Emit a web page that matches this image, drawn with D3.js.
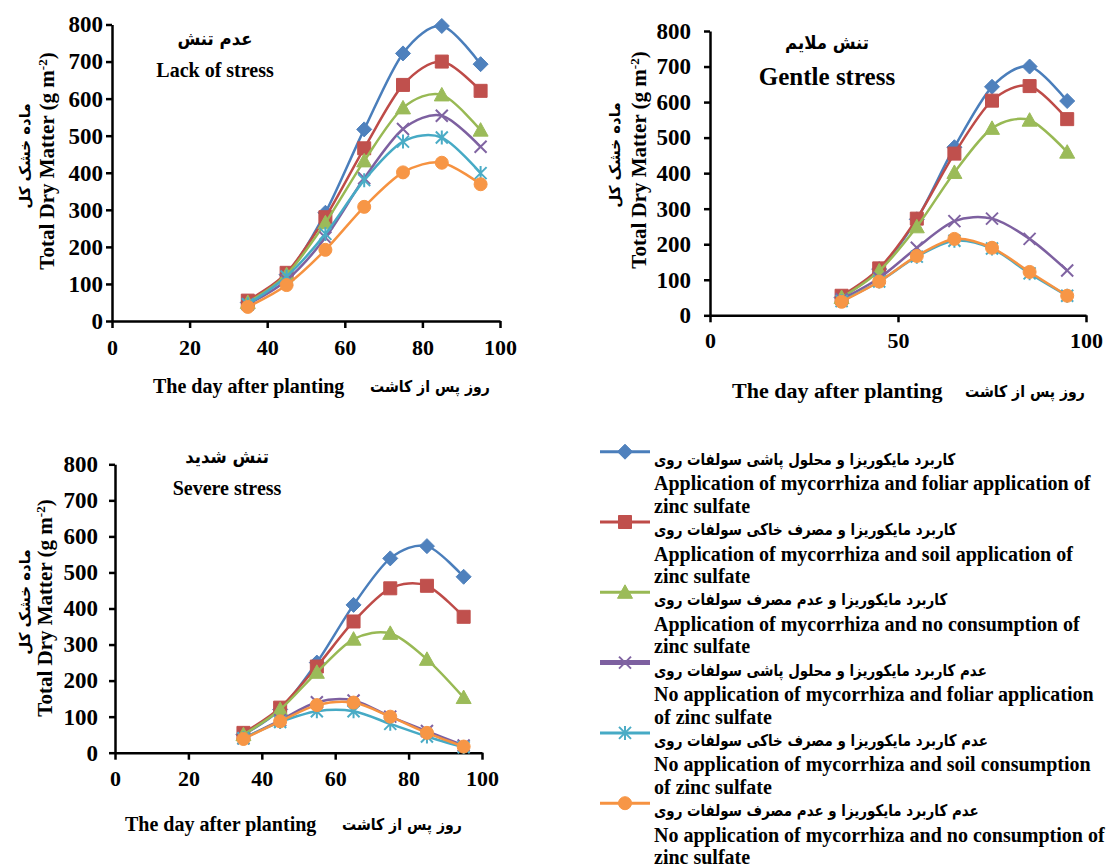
<!DOCTYPE html>
<html>
<head>
<meta charset="utf-8">
<script src="https://cdn.jsdelivr.net/npm/d3@7"></script>
<style>
  body { margin: 0; background: #fff; }
  .en { font-family: "Liberation Serif", "Times New Roman", serif; font-weight: bold; fill: #000; }
  .fa { font-family: "DejaVu Sans", sans-serif; font-weight: bold; fill: #000; }
  .axis path, .axis line { stroke: #000; stroke-width: 2.5; }
  .axis text { font-family: "Liberation Serif", serif; font-weight: bold; fill: #000; }
</style>
</head>
<body>
<div id="vis"></div>
<script>
// Declare data
const DAYS = [35, 45, 55, 65, 75, 85, 95];

// series order: blue, red, green, purple, cyan, orange
const LACK_OF_STRESS = [
  [50, 125, 292, 517, 722, 796, 693],
  [55, 130, 280, 466, 637, 700, 621],
  [50, 125, 265, 432, 575, 610, 515],
  [45, 110, 225, 385, 518, 554, 470],
  [45, 120, 235, 380, 484, 495, 399],
  [38, 97, 192, 308, 401, 427, 369]
];
const GENTLE_STRESS = [
  [50, 130, 270, 473, 643, 700, 603],
  [55, 132, 272, 455, 604, 645, 552],
  [50, 125, 249, 402, 526, 549, 459],
  [45, 105, 190, 265, 272, 215, 126],
  [40, 95, 165, 210, 188, 118, 55],
  [38, 95, 167, 215, 190, 122, 55]
];
const SEVERE_STRESS = [
  [50, 120, 250, 410, 539, 573, 488],
  [55, 125, 239, 364, 456, 463, 377],
  [50, 120, 223, 315, 331, 259, 153],
  [40, 90, 140, 145, 100, 60, 20],
  [40, 85, 115, 115, 80, 45, 15],
  [38, 87, 132, 139, 100, 55, 17]
];

const Y_TICKS = [0, 100, 200, 300, 400, 500, 600, 700, 800];
const X_TICKS_A = [0, 20, 40, 60, 80, 100];
const X_TICKS_B = [0, 50, 100];

const LEGEND_FA = [
  "کاربرد مایکوریزا و محلول پاشی سولفات روی",
  "کاربرد مایکوریزا و مصرف خاکی سولفات روی",
  "کاربرد مایکوریزا و عدم مصرف سولفات روی",
  "عدم کاربرد مایکوریزا و محلول پاشی سولفات روی",
  "عدم کاربرد مایکوریزا و مصرف خاکی سولفات روی",
  "عدم کاربرد مایکوریزا و عدم مصرف سولفات روی"
];
const LEGEND_EN = [
  ["Application of mycorrhiza and foliar application of", "zinc sulfate"],
  ["Application of mycorrhiza and soil application of", "zinc sulfate"],
  ["Application of mycorrhiza and no consumption of", "zinc sulfate"],
  ["No application of mycorrhiza and foliar application", "of zinc sulfate"],
  ["No application of mycorrhiza and soil consumption", "of zinc sulfate"],
  ["No application of mycorrhiza and no consumption of", "zinc sulfate"]
];

const LINE_COLORS = ["#4A7EBB", "#BE4B48", "#98B954", "#7D60A0", "#46AAC5", "#F69240"];
const MARK_COLORS = ["#4F81BD", "#C0504D", "#9BBB59", "#8064A2", "#4BACC6", "#F79646"];
const MARKERS = ["diamond", "square", "triangle", "x", "star", "circle"];

const FRAME_WIDTH = 1120;
const FRAME_HEIGHT = 867;

const FRAME = d3.select("#vis")
  .append("svg")
    .attr("width", FRAME_WIDTH)
    .attr("height", FRAME_HEIGHT);

// marker path generator
function markerPath(type) {
  if (type === "diamond") return "M0,-7.5L7.5,0L0,7.5L-7.5,0Z";
  if (type === "square") return "M-6.5,-6.5H6.5V6.5H-6.5Z";
  if (type === "triangle") return "M0,-7.5L7.5,6L-7.5,6Z";
  if (type === "x") return "M-6,-6L6,6M-6,6L6,-6";
  if (type === "star") return "M-6,-6L6,6M-6,6L6,-6M0,-7L0,7";
  return d3.symbol().type(d3.symbolCircle).size(Math.PI * 6.5 * 6.5)();
}

function drawMarker(sel, i) {
  const stroked = MARKERS[i] === "x" || MARKERS[i] === "star";
  sel.append("path")
    .attr("d", markerPath(MARKERS[i]))
    .attr("fill", stroked ? "none" : MARK_COLORS[i])
    .attr("stroke", MARK_COLORS[i])
    .attr("stroke-width", stroked ? 2 : 1);
}

// persian text, squeezed a little horizontally
function faText(x, y, txt, size, sx, anchor) {
  return FRAME.append("text").attr("class", "fa")
    .attr("transform", "translate(" + x + "," + y + ") scale(" + sx + ",1)")
    .attr("text-anchor", anchor || "start")
    .attr("font-size", size + "px")
    .text(txt);
}

function panel(cfg, data) {
  const X_SCALE = d3.scaleLinear().domain([0, 100]).range([cfg.x0, cfg.x1]);
  const Y_SCALE = d3.scaleLinear().domain([0, 800]).range([cfg.yBot, cfg.yTop]);

  // axes
  const xAxis = FRAME.append("g")
    .attr("class", "axis")
    .attr("transform", "translate(0," + cfg.yBot + ")")
    .call(d3.axisBottom(X_SCALE).tickValues(cfg.xTicks).tickSize(7).tickSizeOuter(0).tickPadding(cfg.xPad));
  xAxis.selectAll("text").attr("font-size", "22px");

  const yAxis = FRAME.append("g")
    .attr("class", "axis")
    .attr("transform", "translate(" + cfg.x0 + ",0)")
    .call(d3.axisLeft(Y_SCALE).tickValues(Y_TICKS).tickSize(6).tickSizeOuter(0).tickPadding(cfg.yPad));
  yAxis.selectAll("text").attr("font-size", "23px");

  // smoothed lines
  const line = d3.line()
    .x((d, j) => X_SCALE(DAYS[j]))
    .y((d) => Y_SCALE(d))
    .curve(d3.curveCardinal.tension(0.1));

  data.forEach((vals, i) => {
    FRAME.append("path")
      .attr("d", line(vals))
      .attr("fill", "none")
      .attr("stroke", LINE_COLORS[i])
      .attr("stroke-width", 2.5);
    vals.forEach((v, j) => {
      const g = FRAME.append("g")
        .attr("transform", "translate(" + X_SCALE(DAYS[j]) + "," + Y_SCALE(v) + ")");
      drawMarker(g, i);
    });
  });

  // titles
  faText(cfg.titleX, cfg.titleFaY, cfg.titleFa, 18, 0.92, "middle");
  FRAME.append("text").attr("class", "en")
    .attr("x", cfg.titleX).attr("y", cfg.titleEnY)
    .attr("text-anchor", "middle").attr("font-size", cfg.titleSize + "px")
    .text(cfg.titleEn);

  // y axis titles
  const yt = FRAME.append("text").attr("class", "en")
    .attr("transform", "translate(" + cfg.yTitleX + "," + cfg.yTitleY + ") rotate(-90)")
    .attr("text-anchor", "middle").attr("font-size", "21px");
  yt.append("tspan").text("Total Dry Matter (g m");
  yt.append("tspan").attr("font-size", "13px").attr("baseline-shift", "super").text("-2");
  yt.append("tspan").text(")");

  FRAME.append("text").attr("class", "fa")
    .attr("transform", "translate(" + cfg.yFaX + "," + cfg.yFaY + ") rotate(-90)")
    .attr("text-anchor", "middle").attr("font-size", "15px")
    .text("ماده خشک کل");

  // x axis titles
  FRAME.append("text").attr("class", "en")
    .attr("x", cfg.xTitleX).attr("y", cfg.xTitleY)
    .attr("font-size", cfg.xTitleSize + "px")
    .text("The day after planting");
  faText(cfg.xFaX, cfg.xTitleY - 1, "روز پس از کاشت", 16, 0.88);
}

panel({
  x0: 112, x1: 500, yTop: 24.5, yBot: 321, xTicks: X_TICKS_A, xPad: 11, yPad: 3,
  titleX: 215, titleFaY: 45, titleEnY: 77, titleSize: 20,
  titleFa: "عدم تنش", titleEn: "Lack of stress",
  yTitleX: 54, yTitleY: 161, yFaX: 30, yFaY: 156,
  xTitleX: 153, xTitleY: 393, xTitleSize: 20, xFaX: 370
}, LACK_OF_STRESS);

panel({
  x0: 710, x1: 1086, yTop: 31, yBot: 315.3, xTicks: X_TICKS_B, xPad: 10, yPad: 13,
  titleX: 827, titleFaY: 49, titleEnY: 85, titleSize: 25,
  titleFa: "تنش ملایم", titleEn: "Gentle stress",
  yTitleX: 646, yTitleY: 160, yFaX: 620, yFaY: 155,
  xTitleX: 732, xTitleY: 398, xTitleSize: 22, xFaX: 965
}, GENTLE_STRESS);

panel({
  x0: 115, x1: 482, yTop: 464.3, yBot: 752.7, xTicks: X_TICKS_A, xPad: 11, yPad: 11,
  titleX: 227, titleFaY: 463, titleEnY: 495, titleSize: 20,
  titleFa: "تنش شدید", titleEn: "Severe stress",
  yTitleX: 52, yTitleY: 608, yFaX: 30, yFaY: 602,
  xTitleX: 125, xTitleY: 831, xTitleSize: 20, xFaX: 342
}, SEVERE_STRESS);

// legend
const LEG_X = 600, LEG_Y = 451.7, LEG_STEP = 70.3;
LEGEND_FA.forEach((fa, i) => {
  const y = LEG_Y + i * LEG_STEP;
  FRAME.append("line")
    .attr("x1", LEG_X).attr("x2", LEG_X + 50)
    .attr("y1", y).attr("y2", y)
    .attr("stroke", LINE_COLORS[i])
    .attr("stroke-width", i === 3 ? 5 : 3);
  drawMarker(FRAME.append("g").attr("transform", "translate(" + (LEG_X + 25) + "," + y + ")"), i);
  faText(654, y + 13, fa, 16, 0.84);
  LEGEND_EN[i].forEach((t, k) => {
    FRAME.append("text").attr("class", "en")
      .attr("x", 654).attr("y", y + 38.5 + k * 22.5)
      .attr("font-size", "20px")
      .text(t);
  });
});
</script>
</body>
</html>
